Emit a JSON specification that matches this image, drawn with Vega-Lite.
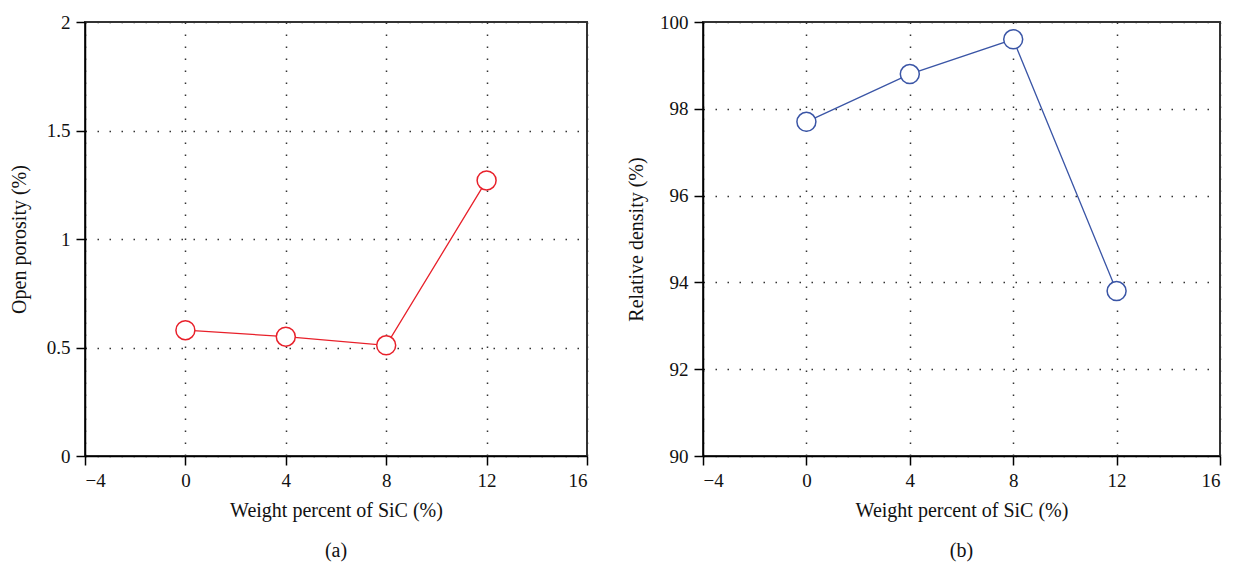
{
  "$schema": "https://vega.github.io/schema/vega-lite/v6.json",
  "background": "white",
  "padding": {"left": 8, "top": 12, "right": 5, "bottom": 5},
  "spacing": 36,
  "datasets": {
    "porosity": [
      {"wt": 0, "value": 0.58},
      {"wt": 4, "value": 0.55},
      {"wt": 8, "value": 0.51},
      {"wt": 12, "value": 1.27}
    ],
    "density": [
      {"wt": 0, "value": 97.7},
      {"wt": 4, "value": 98.8},
      {"wt": 8, "value": 99.6},
      {"wt": 12, "value": 93.8}
    ]
  },
  "config": {
    "font": "Liberation Serif",
    "view": {"stroke": "#333", "strokeWidth": 2},
    "axis": {
      "labelFont": "Liberation Serif",
      "titleFont": "Liberation Serif",
      "labelFontSize": 19,
      "titleFontSize": 20,
      "titleFontWeight": "normal",
      "labelColor": "#111",
      "titleColor": "#111",
      "domainColor": "#000",
      "domainWidth": 1.5,
      "tickColor": "#000",
      "tickWidth": 1.5,
      "tickSize": 9,
      "labelPadding": 6,
      "gridColor": "#333",
      "gridDash": [1.5, 10.5],
      "gridWidth": 1.5,
      "gridOpacity": 1
    },
    "title": {"font": "Liberation Serif", "fontSize": 20, "fontWeight": "normal", "color": "#111"}
  },
  "hconcat": [
    {
      "width": 502,
      "height": 434,
      "title": {"text": "(a)", "orient": "bottom", "offset": 21},
      "data": {"name": "porosity"},
      "encoding": {
        "x": {"field": "wt", "type": "quantitative", "scale": {"domain": [-4, 16], "nice": false},
              "axis": {"values": [-4, 0, 4, 8, 12, 16], "title": "Weight percent of SiC (%)", "titlePadding": 10}},
        "y": {"field": "value", "type": "quantitative", "scale": {"domain": [0, 2], "nice": false},
              "axis": {"values": [0, 0.5, 1, 1.5, 2], "format": "~g", "title": "Open porosity (%)", "titlePadding": 17}}
      },
      "layer": [
        {"mark": {"type": "line", "color": "#e8202a", "strokeWidth": 1.3}},
        {"mark": {"type": "point", "shape": "circle", "size": 360, "filled": false, "fill": "white", "fillOpacity": 1, "stroke": "#e8202a", "strokeWidth": 1.5, "opacity": 1}}
      ]
    },
    {
      "width": 517,
      "height": 434,
      "title": {"text": "(b)", "orient": "bottom", "offset": 21},
      "data": {"name": "density"},
      "encoding": {
        "x": {"field": "wt", "type": "quantitative", "scale": {"domain": [-4, 16], "nice": false},
              "axis": {"values": [-4, 0, 4, 8, 12, 16], "title": "Weight percent of SiC (%)", "titlePadding": 10}},
        "y": {"field": "value", "type": "quantitative", "scale": {"domain": [90, 100], "nice": false, "zero": false},
              "axis": {"values": [90, 92, 94, 96, 98, 100], "format": "d", "title": "Relative density (%)", "titlePadding": 13}}
      },
      "layer": [
        {"mark": {"type": "line", "color": "#3a55a6", "strokeWidth": 1.3}},
        {"mark": {"type": "point", "shape": "circle", "size": 360, "filled": false, "fill": "white", "fillOpacity": 1, "stroke": "#3a55a6", "strokeWidth": 1.5, "opacity": 1}}
      ]
    }
  ]
}
